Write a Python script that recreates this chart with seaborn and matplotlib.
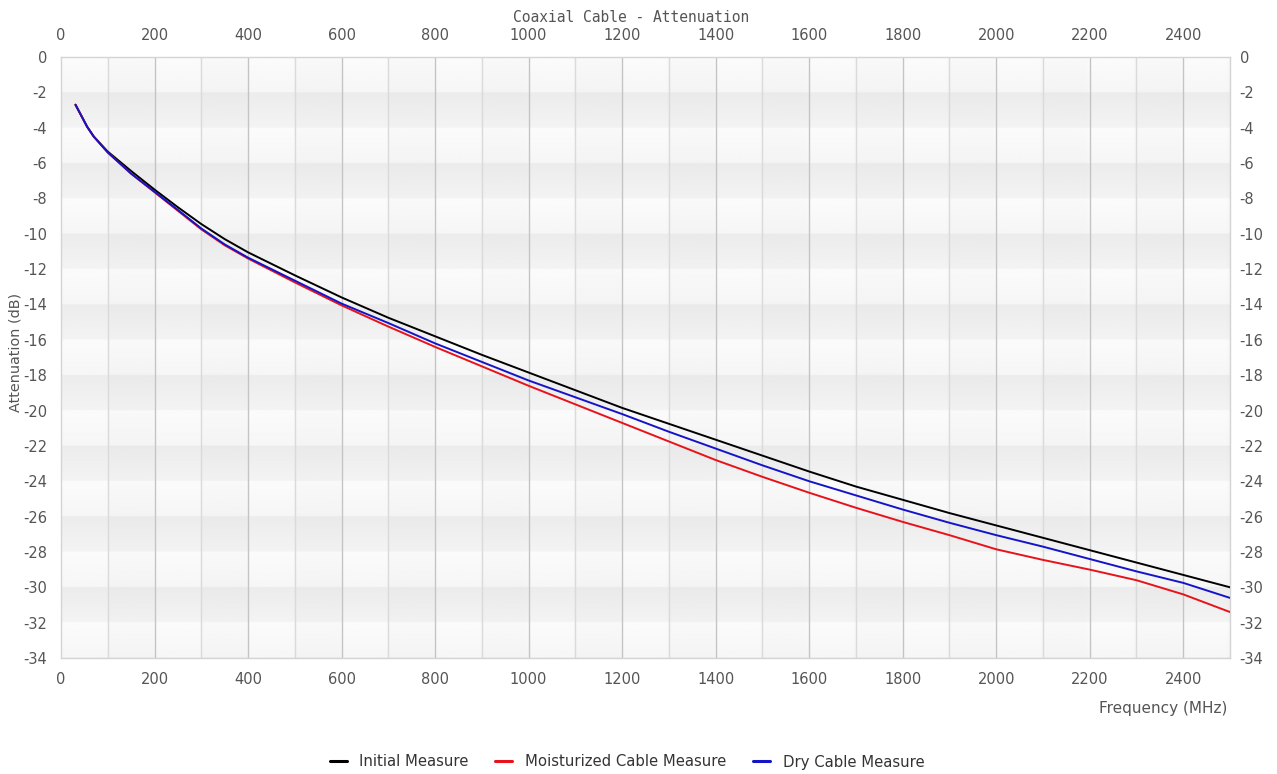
import numpy as np
import pandas as pd
import matplotlib
matplotlib.use("Agg")
import matplotlib.pyplot as plt
from matplotlib.lines import Line2D
import seaborn as sns

# ---- data ----
freq_mhz = [31, 56, 70, 100, 150, 200, 250, 300, 350, 400, 500, 600, 700, 800, 900,
            1000, 1100, 1200, 1300, 1400, 1500, 1600, 1700, 1800, 1900, 2000, 2100,
            2200, 2300, 2400, 2500]
initial = [-2.7, -3.95, -4.5, -5.35, -6.45, -7.5, -8.5, -9.45, -10.3, -11.05, -12.35,
           -13.6, -14.75, -15.8, -16.85, -17.85, -18.85, -19.85, -20.75, -21.65, -22.55, -23.45,
           -24.3, -25.05, -25.8, -26.5, -27.2, -27.9, -28.6, -29.3, -30.0]
moist = [-2.7, -3.95, -4.5, -5.4, -6.6, -7.65, -8.7, -9.75, -10.65, -11.4, -12.75,
         -14.05, -15.25, -16.4, -17.5, -18.6, -19.65, -20.7, -21.75, -22.8, -23.75, -24.65,
         -25.5, -26.3, -27.05, -27.85, -28.45, -29.0, -29.6, -30.4, -31.4]
dry = [-2.7, -3.95, -4.5, -5.4, -6.6, -7.62, -8.65, -9.7, -10.6, -11.35, -12.65,
       -13.95, -15.05, -16.2, -17.25, -18.3, -19.25, -20.2, -21.2, -22.15, -23.1, -24.0,
       -24.8, -25.6, -26.35, -27.05, -27.7, -28.4, -29.1, -29.75, -30.6]
series_names = ["Initial Measure", "Moisturized Cable Measure", "Dry Cable Measure"]
series_colors = ["#000000", "#e8121a", "#1414c8"]
x_ticks = list(range(0, 2500, 200))
y_ticks = list(range(0, -35, -2))

df = pd.concat([
    pd.DataFrame({"Frequency": freq_mhz, "Attenuation": vals, "Series": name})
    for name, vals in zip(series_names, [initial, moist, dry])
], ignore_index=True)

sns.set_theme(style="white")
plt.rcParams["font.family"] = ["DejaVu Sans"]
plt.rcParams["axes.unicode_minus"] = False

W, H = 1277, 774
fig = plt.figure(figsize=(W / 100, H / 100), dpi=100)
ax = fig.add_axes([61 / W, 1 - 658 / H, (1230 - 61) / W, (658 - 57) / H])

# background banding (gradient stripes)
yy = np.linspace(0, -34, 1361)
xx = np.linspace(0, 2500, 501)
pos = (-yy) % 4.0
row = np.where(pos < 2, 0.985 - 0.02 * (pos / 2), 0.925 + 0.03 * ((pos - 2) / 2))
col = np.where((xx // 100) % 2 == 1, 0.99, 1.0)
img = np.clip(row[:, None] * col[None, :], 0, 1)
ax.imshow(img, cmap="gray", vmin=0, vmax=1, aspect="auto",
          extent=[0, 2500, -34, 0], origin="upper", zorder=0, interpolation="bilinear")

for xv in range(100, 2500, 100):
    ax.axvline(xv, color="#c4c4c4" if xv % 200 == 0 else "#dadada", lw=1.0, zorder=1)

sns.lineplot(data=df, x="Frequency", y="Attenuation", hue="Series",
             palette=dict(zip(series_names, series_colors)), linewidth=1.4,
             ax=ax, legend=False, zorder=3)

ax.set_xlim(0, 2500)
ax.set_ylim(-34, 0)
ax.set_xticks(x_ticks)
ax.set_yticks(y_ticks)
ax.set_xlabel("")
ax.set_ylabel("")
for s in ax.spines.values():
    s.set_color("#d4d4d4")
    s.set_linewidth(1.0)
tick_col = "#555555"
ax.tick_params(axis="both", length=0, labelsize=10.5, labelcolor=tick_col)
ax.tick_params(axis="x", pad=10)
ax.tick_params(axis="y", pad=10)

# right axis labels
axr = ax.twinx()
axr.set_ylim(-34, 0)
axr.set_yticks(y_ticks)
axr.tick_params(axis="y", length=0, labelsize=10.5, labelcolor=tick_col, pad=7)
axr.grid(False)
for s in axr.spines.values():
    s.set_visible(False)

# top axis labels
axt = ax.twiny()
axt.set_xlim(0, 2500)
axt.set_xticks(x_ticks)
axt.tick_params(axis="x", length=0, labelsize=10.5, labelcolor=tick_col, pad=10)
axt.grid(False)
for s in axt.spines.values():
    s.set_visible(False)

fig.text(631 / W, 1 - 17 / H, "Coaxial Cable - Attenuation", family="DejaVu Sans Mono",
         fontsize=10.5, color=tick_col, ha="center", va="center")
fig.text(16 / W, 1 - 352 / H, "Attenuation (dB)", rotation=90, fontsize=10.4,
         color=tick_col, ha="center", va="center")
fig.text(1227 / W, 1 - 708 / H, "Frequency (MHz)", fontsize=11,
         color=tick_col, ha="right", va="center")

handles = [Line2D([0], [0], color=c, lw=2.2) for c in series_colors]
fig.legend(handles, series_names, loc="center", bbox_to_anchor=(627 / W, 1 - 762 / H),
           ncol=3, frameon=False, fontsize=10.7, handlelength=1.15, handletextpad=0.85,
           columnspacing=1.8, labelcolor="#333333", borderaxespad=0, borderpad=0)

fig.savefig("out.png", dpi=100)
